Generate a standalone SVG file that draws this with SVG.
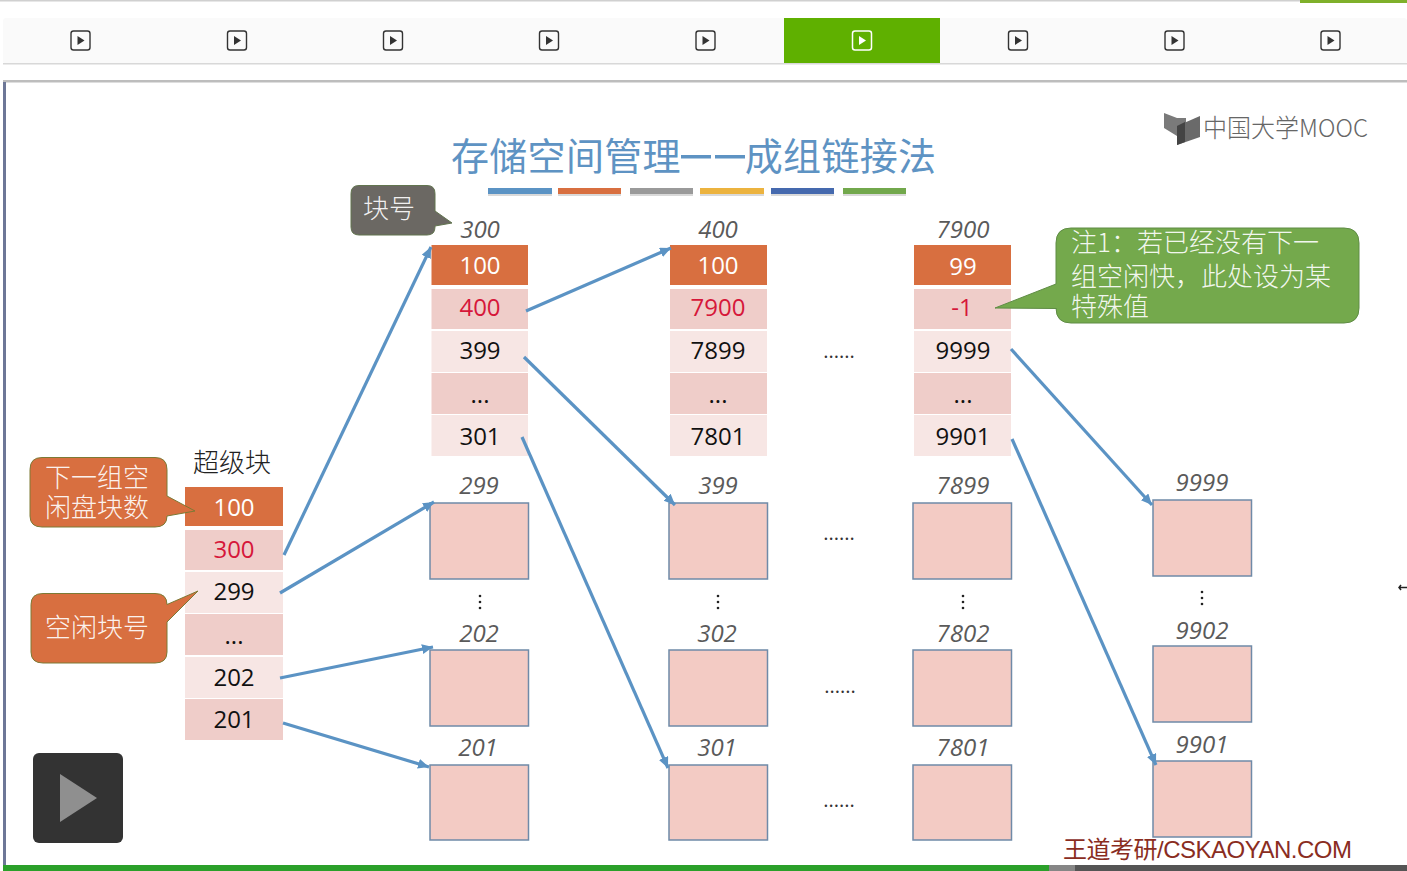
<svg xmlns="http://www.w3.org/2000/svg" width="1407" height="871" viewBox="0 0 1407 871">
<defs>
<style>
text{font-family:"Liberation Sans","Noto Sans CJK SC",sans-serif}
.cn{font-family:"Noto Sans CJK SC","Liberation Sans",sans-serif;font-weight:300}
.n{font-family:"Open Sans","Noto Sans",sans-serif;font-size:24px;text-anchor:middle;fill:#111}
.w{fill:#fff}.r{fill:#d6173a}
.i{font-family:"Open Sans","Noto Sans",sans-serif;font-size:24px;font-style:italic;text-anchor:middle;fill:#5a5a5a}
.d{font-family:"Open Sans","Noto Sans",sans-serif;font-size:20px;text-anchor:middle;fill:#333}
.h{fill:#d86f40}.a{fill:#efcdc9}.b{fill:#f7e6e4}
.box{fill:#f3cbc4;stroke:#6f8aa8;stroke-width:1.5}
.conn{fill:none;stroke:#5b93c4;stroke-width:3.2;marker-end:url(#ah)}
.ic{fill:none;stroke:#333;stroke-width:1.4}
.ct{fill:#fff;font-size:26px;fill-opacity:.92}
.sh{fill:#d9d9d9}
</style>
<marker id="ah" markerUnits="userSpaceOnUse" markerWidth="14" markerHeight="12" refX="11" refY="5" orient="auto"><path d="M0 0L11 5L0 10z" fill="#5b93c4"/></marker>
<g id="play"><rect x="-9.500" y="-9.500" width="19" height="19" rx="2.500" class="ic" fill="none"/><path d="M-3-4.500L4 0L-3 4.500z" fill="#333"/></g>
</defs>
<rect width="1407" height="871" fill="#fff"/>
<g id="top-bar">
<rect width="1407" height="1.500" fill="#d0d0d0"/>
<rect x="1300" width="107" height="3" fill="#7fb02a"/>
<rect x="3" y="18" width="1404" height="46" rx="3" fill="#fafafa"/>
<rect x="3" y="63" width="1404" height="1.500" fill="#d8d8d8"/>
<rect x="784" y="18" width="156" height="45" fill="#5fb000"/>
<use href="#play" x="80.500" y="40.500"/><use href="#play" x="237" y="40.500"/><use href="#play" x="393" y="40.500"/><use href="#play" x="549" y="40.500"/><use href="#play" x="705.500" y="40.500"/>
<g transform="translate(862 40.500)"><rect x="-9.500" y="-9.500" width="19" height="19" rx="2.500" fill="none" stroke="#fff" stroke-width="1.500"/><path d="M-3-4.500L4 0L-3 4.500z" fill="#fff"/></g>
<use href="#play" x="1018" y="40.500"/><use href="#play" x="1174.500" y="40.500"/><use href="#play" x="1330.500" y="40.500"/>
</g>
<g id="frame">
<rect x="3" y="80" width="1404" height="2.500" fill="#bdbdbd"/>
<rect x="3" y="82" width="3" height="784" fill="#6d7797"/>
<rect x="3" y="865" width="1046" height="6" fill="#2ba02a"/>
<rect x="1049" y="865" width="26" height="6" fill="#868686"/>
<rect x="1075" y="865" width="332" height="6" fill="#555"/>
<path d="M1399 587.500h8M1401 585l-2 2.500 2 2.500" stroke="#222" stroke-width="1.500" fill="none"/>
</g>
<g id="title">
<text x="451" y="170" class="cn" font-size="38" fill="#5e93c3" style="font-weight:400" textLength="485" lengthAdjust="spacing">存储空间管理——成组链接法</text>
<rect x="678" y="150" width="70" height="12" fill="#fff"/>
<rect x="681" y="155" width="30" height="3.500" fill="#5e93c3"/><rect x="715" y="155" width="30" height="3.500" fill="#5e93c3"/>
<rect class="sh" x="488" y="193" width="64" height="3"/><rect class="sh" x="558" y="193" width="63" height="3"/><rect class="sh" x="630" y="193" width="63" height="3"/><rect class="sh" x="700" y="193" width="64" height="3"/><rect class="sh" x="771" y="193" width="63" height="3"/><rect class="sh" x="843" y="193" width="63" height="3"/>
<rect x="488" y="188" width="64" height="6" fill="#5b93c4"/><rect x="558" y="188" width="63" height="6" fill="#d86f40"/><rect x="630" y="188" width="63" height="6" fill="#9a9a9a"/><rect x="700" y="188" width="64" height="6" fill="#ecb33f"/><rect x="771" y="188" width="63" height="6" fill="#4569ae"/><rect x="843" y="188" width="63" height="6" fill="#72a84c"/>
</g>
<g id="logo">
<path d="M1164 113l13 5 9 0v17l-9 1-13-8z" fill="#7a7a7a"/><path d="M1177 126l23-10v21l-23 8z" fill="#6a6a6a"/><path d="M1177 126l8-4v20l-8 3z" fill="#444"/>
<text x="1203" y="137" font-size="25" fill="#666" class="cn" textLength="165" lengthAdjust="spacingAndGlyphs">中国大学MOOC</text>
</g>
<g id="superblock">
<text x="232" y="472" class="cn" font-size="26" fill="#222" text-anchor="middle">超级块</text>
<rect class="h" x="185" y="487" width="98" height="39"/><rect class="a" x="185" y="530" width="98" height="40"/><rect class="b" x="185" y="572" width="98" height="41"/><rect class="a" x="185" y="614" width="98" height="41"/><rect class="b" x="185" y="657" width="98" height="41"/><rect class="a" x="185" y="699" width="98" height="41"/>
<text class="n w" x="234" y="516">100</text><text class="n r" x="234" y="558">300</text><text class="n" x="234" y="600">299</text><text class="n" x="234" y="644">...</text><text class="n" x="234" y="686">202</text><text class="n" x="234" y="728">201</text>
</g>
<g id="group-300">
<text class="i" x="480" y="238">300</text>
<rect class="h" x="431.500" y="245" width="96.500" height="40"/><rect class="a" x="431.500" y="289" width="96.500" height="40"/><rect class="b" x="431.500" y="331" width="96.500" height="41"/><rect class="a" x="431.500" y="373" width="96.500" height="41"/><rect class="b" x="431.500" y="415" width="96.500" height="41"/>
<text class="n w" x="480" y="274">100</text><text class="n r" x="480" y="316">400</text><text class="n" x="480" y="359">399</text><text class="n" x="480" y="403">...</text><text class="n" x="480" y="445">301</text>
</g>
<g id="group-400">
<text class="i" x="718" y="238">400</text>
<rect class="h" x="670" y="245" width="97" height="40"/><rect class="a" x="670" y="289" width="97" height="40"/><rect class="b" x="670" y="331" width="97" height="41"/><rect class="a" x="670" y="373" width="97" height="41"/><rect class="b" x="670" y="415" width="97" height="41"/>
<text class="n w" x="718" y="274">100</text><text class="n r" x="718" y="316">7900</text><text class="n" x="718" y="359">7899</text><text class="n" x="718" y="403">...</text><text class="n" x="718" y="445">7801</text>
</g>
<g id="group-7900">
<text class="i" x="963" y="238">7900</text>
<rect class="h" x="914" y="245" width="97" height="40"/><rect class="a" x="914" y="289" width="97" height="40"/><rect class="b" x="914" y="331" width="97" height="41"/><rect class="a" x="914" y="373" width="97" height="41"/><rect class="b" x="914" y="415" width="97" height="41"/>
<text class="n w" x="963" y="275">99</text><text class="n r" x="962" y="316">-1</text><text class="n" x="963" y="359">9999</text><text class="n" x="963" y="403">...</text><text class="n" x="963" y="445">9901</text>
</g>
<g id="blocks">
<text class="i" x="479" y="494">299</text><rect class="box" x="430" y="503" width="98.500" height="76"/>
<text class="i" x="479" y="642">202</text><rect class="box" x="430" y="650" width="98.500" height="76"/>
<text class="i" x="478" y="756">201</text><rect class="box" x="430" y="765" width="98.500" height="75"/>
<text class="i" x="718" y="494">399</text><rect class="box" x="669" y="503" width="98.500" height="76"/>
<text class="i" x="717" y="642">302</text><rect class="box" x="669" y="650" width="98.500" height="76"/>
<text class="i" x="717" y="756">301</text><rect class="box" x="669" y="765" width="98.500" height="75"/>
<text class="i" x="963" y="494">7899</text><rect class="box" x="913" y="503" width="98.500" height="76"/>
<text class="i" x="963" y="642">7802</text><rect class="box" x="913" y="650" width="98.500" height="76"/>
<text class="i" x="963" y="756">7801</text><rect class="box" x="913" y="765" width="98.500" height="75"/>
<text class="i" x="1202" y="491">9999</text><rect class="box" x="1153" y="500" width="98.500" height="76"/>
<text class="i" x="1202" y="639">9902</text><rect class="box" x="1153" y="646" width="98.500" height="76"/>
<text class="i" x="1202" y="753">9901</text><rect class="box" x="1153" y="761" width="98.500" height="76"/>
</g>
<g id="connectors">
<path class="conn" d="M284 555L431 247"/>
<path class="conn" d="M280 593L434 502"/>
<path class="conn" d="M280 678L433 647"/>
<path class="conn" d="M283 723L429 767"/>
<path class="conn" d="M526 311L671 248"/>
<path class="conn" d="M524 357L675 505"/>
<path class="conn" d="M522 437L668 768"/>
<path class="conn" d="M1011 349L1152 505"/>
<path class="conn" d="M1012 439L1156 765"/>
</g>
<g id="dots" fill="#222">
<text class="d" x="839" y="358">......</text><text class="d" x="839" y="540">......</text><text class="d" x="840" y="693">......</text><text class="d" x="839" y="807">......</text>
<circle cx="480" cy="596" r="1.300"/><circle cx="480" cy="602" r="1.300"/><circle cx="480" cy="608" r="1.300"/>
<circle cx="718" cy="596" r="1.300"/><circle cx="718" cy="602" r="1.300"/><circle cx="718" cy="608" r="1.300"/>
<circle cx="963" cy="596" r="1.300"/><circle cx="963" cy="602" r="1.300"/><circle cx="963" cy="608" r="1.300"/>
<circle cx="1202" cy="592" r="1.300"/><circle cx="1202" cy="598" r="1.300"/><circle cx="1202" cy="604" r="1.300"/>
</g>
<g id="callout-block-no">
<path d="M359 185.500H427q8 0 8 8V211L452 223L435 226V227q0 8-8 8H359q-8 0-8-8V193.500q0-8 8-8z" fill="#6b6863" stroke="#62754f" stroke-width="1"/>
<text x="389" y="218" class="cn ct" font-size="26" text-anchor="middle">块号</text>
</g>
<g id="callout-next-count">
<path d="M42 457.500H155q12 0 12 12V496L195 511L167 516V516q0 11-12 11H42q-12 0-12-11V469.500q0-12 12-12z" fill="#d86f40" stroke="#7c7a35" stroke-width="1"/>
<text x="97" y="487" class="cn ct" text-anchor="middle">下一组空</text><text x="97" y="517" class="cn ct" text-anchor="middle">闲盘块数</text>
</g>
<g id="callout-free-no">
<path d="M43 593.500H155q12 0 12 11L198 591L167 622V652q0 11-12 11H43q-12 0-12-11V604.500q0-11 12-11z" fill="#d86f40" stroke="#7c7a35" stroke-width="1"/>
<text x="97" y="637" class="cn ct" text-anchor="middle">空闲块号</text>
</g>
<g id="callout-note">
<path d="M1071 228H1344q15 0 15 15V308q0 15-15 15H1071q-15 0-15-15V308.500L995 308L1056 284V243q0-15 15-15z" fill="#74a94c" stroke="#5f8c45" stroke-width="1"/>
<text x="1071" y="252" class="cn ct">注1：若已经没有下一</text><text x="1071" y="286" class="cn ct">组空闲快，此处设为某</text><text x="1071" y="316" class="cn ct">特殊值</text>
</g>
<g id="player">
<rect x="33" y="753" width="90" height="90" rx="6" fill="#333"/>
<path d="M60 774L97 798L60 822z" fill="#8f8f8f"/>
</g>
<text id="watermark" x="1063" y="858" font-size="24" fill="#8a2d1f" textLength="289" lengthAdjust="spacing">王道考研/CSKAOYAN.COM</text>
</svg>
